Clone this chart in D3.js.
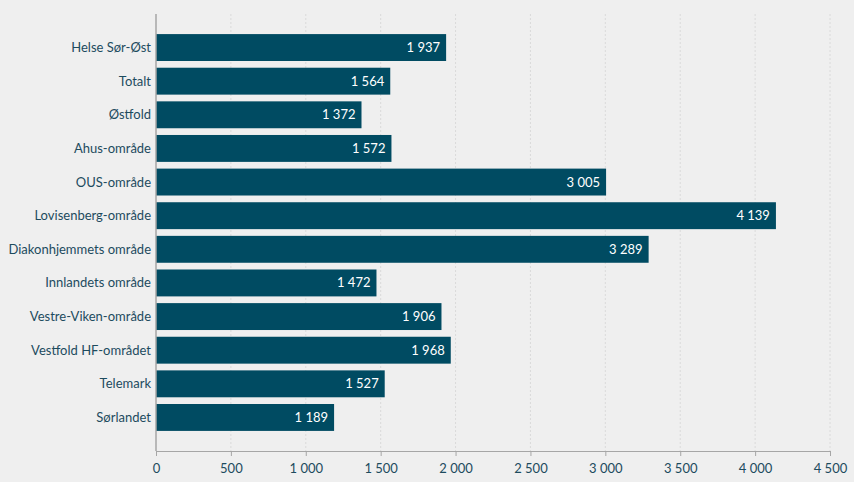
<!DOCTYPE html>
<html>
<head>
<meta charset="utf-8">
<script src="https://cdn.jsdelivr.net/npm/d3@7"></script>
<style>
  body { margin: 0; background: #efefef; }
  svg { display: block; font-family: Lato, "Open Sans", sans-serif; }
  .lbl { fill: #1d4b5e; font-size: 13px; }
  .val { fill: #ffffff; font-size: 13px; }
</style>
</head>
<body>
<div id="chart"></div>
<script>
// data
var regions = ["Helse Sør-Øst", "Totalt", "Østfold", "Ahus-område", "OUS-område", "Lovisenberg-område",
  "Diakonhjemmets område", "Innlandets område", "Vestre-Viken-område", "Vestfold HF-området", "Telemark", "Sørlandet"];
var values = [1937, 1564, 1372, 1572, 3005, 4139, 3289, 1472, 1906, 1968, 1527, 1189];
var xTicks = [0, 500, 1000, 1500, 2000, 2500, 3000, 3500, 4000, 4500];

var svgWidth = 854, svgHeight = 482;
var fmtNum = function(v) { return d3.format(",")(v).replace(/,/g, " "); };

var svg = d3.select("#chart").append("svg")
  .attr("width", svgWidth).attr("height", svgHeight);

svg.append("rect").attr("width", svgWidth).attr("height", svgHeight).attr("fill", "#efefef");

var x = d3.scaleLinear().domain([0, 4500]).range([156, 830]);
var y = d3.scaleBand().domain(regions).range([24, 441]).paddingInner(0.2).paddingOuter(0.3);

// grid lines
svg.append("g").selectAll("line").data(xTicks.slice(1)).enter().append("line")
  .attr("x1", d => x(d)).attr("x2", d => x(d))
  .attr("y1", 14).attr("y2", 451)
  .attr("stroke", "#dadada").attr("stroke-dasharray", "2,2");

// bars
svg.append("g").selectAll("rect").data(values).enter().append("rect")
  .attr("x", x(0))
  .attr("y", (d, i) => y(regions[i]))
  .attr("width", d => x(d) - x(0))
  .attr("height", y.bandwidth())
  .attr("fill", "#004b62");

// value labels inside bars
svg.append("g").selectAll("text").data(values).enter().append("text")
  .attr("class", "val")
  .attr("x", d => x(d) - 6)
  .attr("y", (d, i) => y(regions[i]) + y.bandwidth() / 2)
  .attr("dy", "0.35em")
  .attr("text-anchor", "end")
  .text(d => fmtNum(d));

// x axis
var xAxis = svg.append("g")
  .attr("transform", "translate(0,451)")
  .call(d3.axisBottom(x).tickValues(xTicks).tickSize(5).tickSizeOuter(0).tickFormat(fmtNum));
xAxis.select(".domain").attr("stroke", "#a6a6a6");
xAxis.selectAll(".tick line").attr("stroke", "#a6a6a6");
xAxis.selectAll("text").attr("class", "lbl").attr("dy", "1.1em").style("font-family", "Lato, 'Open Sans', sans-serif");

// y axis line
svg.append("line").attr("x1", 156).attr("x2", 156).attr("y1", 14).attr("y2", 451)
  .attr("stroke", "#a6a6a6").attr("stroke-width", 1.5);

// category labels
svg.append("g").selectAll("text").data(regions).enter().append("text")
  .attr("class", "lbl")
  .attr("x", 151)
  .attr("y", d => y(d) + y.bandwidth() / 2)
  .attr("dy", "0.35em")
  .attr("text-anchor", "end")
  .text(d => d);
</script>
</body>
</html>
